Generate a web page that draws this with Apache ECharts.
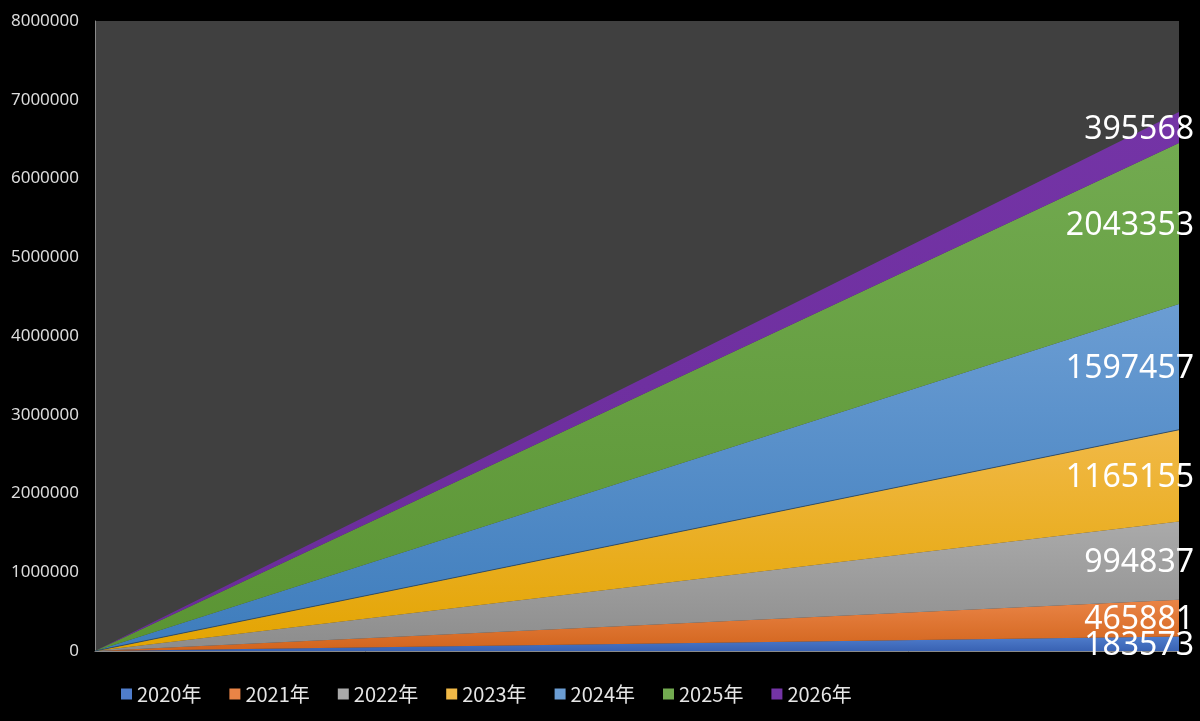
<!DOCTYPE html>
<html>
<head>
<meta charset="utf-8">
<script src="https://cdn.jsdelivr.net/npm/echarts@6/dist/echarts.min.js"></script>
<style>
  html, body { margin: 0; padding: 0; background: #000; }
  #chart { width: 1200px; height: 721px; }
</style>
</head>
<body>
<div id="chart"></div>
<script>
// data
var years = ['2020年', '2021年', '2022年', '2023年', '2024年', '2025年', '2026年'];
var points = ['始', '终'];
var startValues = [0, 0, 0, 0, 0, 0, 0];
var endValues = [183573, 465881, 994837, 1165155, 1597457, 2043353, 395568];
var yTicks = [0, 1000000, 2000000, 3000000, 4000000, 5000000, 6000000, 7000000, 8000000];

var colors = [
    ['#4f7dcc', '#3962b3'],
    ['#ea8446', '#d1641c'],
    ['#aaaaaa', '#8c8c8c'],
    ['#f1b947', '#e3a400'],
    ['#6b9dd3', '#3d7cbc'],
    ['#72aa50', '#5a9433'],
    ['#7434a6', '#6a2c9a']
];

chart = echarts.init(document.getElementById('chart'));

var series = [];
for (var i = 0; i < years.length; i++) {
    series.push({
        name: years[i],
        type: 'line',
        stack: 'total',
        showSymbol: false,
        silent: true,
        data: [startValues[i], endValues[i]],
        lineStyle: i == 3 ? { width: 0.8, color: '#27425e' } : { width: 0 },
        itemStyle: { color: colors[i][0] },
        areaStyle: {
            opacity: 1,
            color: new echarts.graphic.LinearGradient(0, 0, 0, 1, [
                { offset: 0, color: colors[i][0] },
                { offset: 1, color: colors[i][1] }
            ])
        }
    });
}

var option = {
    backgroundColor: '#000',
    animation: false,
    color: colors.map(function (c) { return c[0]; }),
    grid: {
        left: 95,
        right: 21,
        top: 21,
        bottom: 70,
        show: true,
        backgroundColor: '#404040',
        borderWidth: 0
    },
    legend: {
        data: years,
        left: 116,
        top: 679,
        icon: 'rect',
        itemWidth: 11,
        itemHeight: 11,
        itemGap: 28,
        textStyle: {
            color: '#e6e6e6',
            fontFamily: 'Noto Sans CJK SC',
            fontSize: 20
        }
    },
    xAxis: {
        type: 'category',
        data: points,
        boundaryGap: false,
        axisLine: { show: true, lineStyle: { color: '#8a8a8a', width: 1 } },
        axisTick: { show: false },
        axisLabel: { show: false },
        splitLine: { show: false }
    },
    yAxis: {
        type: 'value',
        min: 0,
        max: 8000000,
        interval: 1000000,
        axisLine: { show: true, lineStyle: { color: '#8a8a8a', width: 1 } },
        axisTick: { show: false },
        splitLine: { show: false },
        axisLabel: {
            margin: 16,
            color: '#dcdcdc',
            fontFamily: 'Noto Sans',
            fontSize: 17,
            formatter: function (v) { return yTicks.indexOf(v) >= 0 ? String(v) : ''; }
        }
    },
    series: series
};
chart.setOption(option);

// value labels, centred on each band at the right edge
var labels = [];
var cum = 0;
for (var i = 0; i < endValues.length; i++) {
    var pBottom = chart.convertToPixel({ gridIndex: 0 }, [1, cum]);
    cum += endValues[i];
    var pTop = chart.convertToPixel({ gridIndex: 0 }, [1, cum]);
    labels.push({
        type: 'text',
        x: pTop[0] + 15,
        y: (pTop[1] + pBottom[1]) / 2 + 2,
        z: 100,
        style: {
            text: String(endValues[i]),
            fill: '#fff',
            font: '32px "Noto Sans"',
            textAlign: 'right',
            textVerticalAlign: 'middle'
        }
    });
}
chart.setOption({ graphic: labels });
</script>
</body>
</html>
